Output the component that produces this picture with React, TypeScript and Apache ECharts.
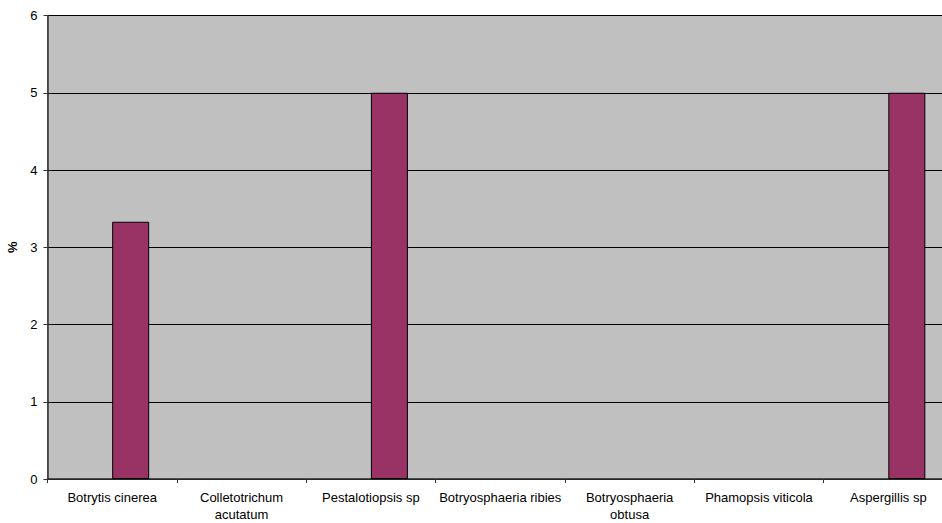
import React, { useEffect, useRef } from "react";
import * as echarts from "echarts";

const categories = [
  "Botrytis cinerea",
  "Colletotrichum\nacutatum",
  "Pestalotiopsis sp",
  "Botryosphaeria ribies",
  "Botryosphaeria\nobtusa",
  "Phamopsis viticola",
  "Aspergillis sp",
];
const percentValues = [3.33, 0, 5, 0, 0, 0, 5];
const emptySeries = [null, null, null, null, null, null, null];
const yTicks = { min: 0, max: 6, interval: 1 };

export default function App() {
  const ref = useRef<HTMLDivElement>(null);
  useEffect(() => {
    if (!ref.current) return;
    const chart = echarts.init(ref.current, null, { renderer: "svg" });
    chart.setOption({
      animation: false,
      backgroundColor: "#ffffff",
      textStyle: { fontFamily: "Liberation Sans, Arial, sans-serif" },
      grid: {
        left: 47.5,
        right: 0,
        top: 15.5,
        bottom: 44,
        containLabel: false,
        outerBoundsMode: "none",
        show: true,
        backgroundColor: "#C0C0C0",
        borderColor: "#808080",
        borderWidth: 1,
      },
      xAxis: {
        type: "category",
        data: categories,
        axisLine: { show: true, lineStyle: { color: "#333333", width: 1.5 } },
        axisTick: { show: true, alignWithLabel: false, length: 4, lineStyle: { color: "#333333" } },
        axisLabel: {
          interval: 0,
          color: "#000000",
          fontSize: 13,
          margin: 10,
          lineHeight: 17,
          fontFamily: "Liberation Sans, Arial, sans-serif",
        },
      },
      yAxis: {
        type: "value",
        min: yTicks.min,
        max: yTicks.max,
        interval: yTicks.interval,
        name: "%",
        nameLocation: "middle",
        nameRotate: 90,
        nameGap: 26,
        nameTextStyle: {
          fontWeight: "bold",
          fontSize: 13,
          color: "#000000",
          fontFamily: "Liberation Sans, Arial, sans-serif",
        },
        axisLine: { show: true, lineStyle: { color: "#333333", width: 1.5 } },
        axisTick: { show: true, length: 4, lineStyle: { color: "#333333" } },
        axisLabel: {
          color: "#000000",
          fontSize: 13,
          margin: 10,
          fontFamily: "Liberation Sans, Arial, sans-serif",
        },
        splitLine: { show: true, lineStyle: { color: "#000000", width: 1 } },
      },
      series: [
        {
          type: "bar",
          name: "",
          data: emptySeries,
          barWidth: 37,
          barGap: "0%",
          silent: true,
        },
        {
          type: "bar",
          name: "%",
          data: percentValues.map((v) =>
            v === 0 ? { value: v, itemStyle: { borderWidth: 0 } } : v
          ),
          barWidth: 37,
          barGap: "0%",
          itemStyle: { color: "#993366", borderColor: "#000000", borderWidth: 1 },
        },
      ],
    });
    return () => chart.dispose();
  }, []);
  return (
    <div
      style={{
        position: "fixed",
        left: 0,
        top: 0,
        width: 942,
        height: 523,
        overflow: "hidden",
      }}
    >
      <div ref={ref} style={{ width: 953, height: 523 }} />
    </div>
  );
}
